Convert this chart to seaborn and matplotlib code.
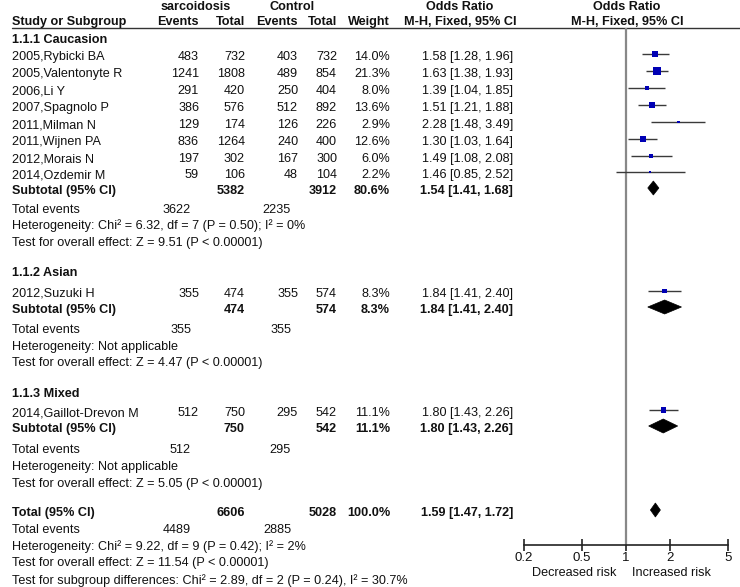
import numpy as np
import pandas as pd
import matplotlib
matplotlib.use("Agg")
import matplotlib.pyplot as plt
from matplotlib.patches import Polygon
import seaborn as sns

# ---------------- data ----------------
studies = ["2005,Rybicki BA", "2005,Valentonyte R", "2006,Li Y", "2007,Spagnolo P",
           "2011,Milman N", "2011,Wijnen PA", "2012,Morais N", "2014,Ozdemir M",
           "2012,Suzuki H", "2014,Gaillot-Drevon M"]
case_events = [483, 1241, 291, 386, 129, 836, 197, 59, 355, 512]
case_total = [732, 1808, 420, 576, 174, 1264, 302, 106, 474, 750]
ctrl_events = [403, 489, 250, 512, 126, 240, 167, 48, 355, 295]
ctrl_total = [732, 854, 404, 892, 226, 400, 300, 104, 574, 542]
weight = [14.0, 21.3, 8.0, 13.6, 2.9, 12.6, 6.0, 2.2, 8.3, 11.1]
odds = [1.58, 1.63, 1.39, 1.51, 2.28, 1.30, 1.49, 1.46, 1.84, 1.80]
ci_lo = [1.28, 1.38, 1.04, 1.21, 1.48, 1.03, 1.08, 0.85, 1.41, 1.43]
ci_hi = [1.96, 1.93, 1.85, 1.88, 3.49, 1.64, 2.08, 2.52, 2.40, 2.26]

sub_names = ["1.1.1 Caucasion", "1.1.2 Asian", "1.1.3 Mixed"]
sub_case_total = [5382, 474, 750]
sub_ctrl_total = [3912, 574, 542]
sub_weight = [80.6, 8.3, 11.1]
sub_odds = [1.54, 1.84, 1.80]
sub_lo = [1.41, 1.41, 1.43]
sub_hi = [1.68, 2.40, 2.26]
sub_case_events = [3622, 355, 512]
sub_ctrl_events = [2235, 355, 295]
sub_het = ["Heterogeneity: Chi² = 6.32, df = 7 (P = 0.50); I² = 0%",
           "Heterogeneity: Not applicable",
           "Heterogeneity: Not applicable"]
sub_test = ["Test for overall effect: Z = 9.51 (P < 0.00001)",
            "Test for overall effect: Z = 4.47 (P < 0.00001)",
            "Test for overall effect: Z = 5.05 (P < 0.00001)"]

tot_case_total = 6606
tot_ctrl_total = 5028
tot_weight = 100.0
tot_odds, tot_lo, tot_hi = 1.59, 1.47, 1.72
tot_case_events = 4489
tot_ctrl_events = 2885
tot_het = "Heterogeneity: Chi² = 9.22, df = 9 (P = 0.42); I² = 2%"
tot_test = "Test for overall effect: Z = 11.54 (P < 0.00001)"
tot_sub = "Test for subgroup differences: Chi² = 2.89, df = 2 (P = 0.24), I² = 30.7%"

axis_ticks = [0.2, 0.5, 1, 2, 5]
axis_ticklabels = ["0.2", "0.5", "1", "2", "5"]

# ---------------- layout (pixel rows) ----------------
study_y = [57, 74, 91, 108, 125, 142, 159, 175, 294, 413]
group_y = [40, 273, 394]
sub_y = [191, 310, 429]
sub_ev_y = [210, 330, 450]
sub_het_y = [226, 347, 467]
sub_test_y = [243, 363, 484]
tot_y, tot_ev_y, tot_het_y, tot_test_y, tot_sub_y = 513, 530, 547, 563, 581
mark_shift = -3

W, H = 740, 587
sns.set_theme(style="white")
plt.rcParams['font.family'] = ['Liberation Sans', 'DejaVu Sans']
FS = 9.1
TXT = "#111111"

fig = plt.figure(figsize=(W / 100, H / 100), dpi=100)
fig.patch.set_facecolor("white")

# text layer in pixel coordinates
axt = fig.add_axes([0, 0, 1, 1])
axt.set_xlim(0, W)
axt.set_ylim(H, 0)
axt.axis("off")

X_NAME = 12
X_CE, X_CT, X_KE, X_KT, X_W, X_OR = 199, 245, 298, 337, 390, 513
X_TE1, X_TE2 = 191, 291


def t(x, y, s, ha="left", bold=False):
    axt.text(x, y, s, ha=ha, va="center", fontsize=FS, color=TXT,
             fontweight="bold" if bold else "normal")


# headers
t(196, 7, "sarcoidosis", ha="center", bold=True)
t(292, 7, "Control", ha="center", bold=True)
t(460, 7, "Odds Ratio", ha="center", bold=True)
t(627, 7, "Odds Ratio", ha="center", bold=True)
t(X_NAME, 22, "Study or Subgroup", bold=True)
t(X_CE, 22, "Events", ha="right", bold=True)
t(X_CT, 22, "Total", ha="right", bold=True)
t(X_KE, 22, "Events", ha="right", bold=True)
t(X_KT, 22, "Total", ha="right", bold=True)
t(X_W, 22, "Weight", ha="right", bold=True)
t(460, 22, "M-H, Fixed, 95% CI", ha="center", bold=True)
t(627, 22, "M-H, Fixed, 95% CI", ha="center", bold=True)
axt.plot([X_NAME, W], [28, 28], color="#333333", lw=1.0)

# study rows
for i, name in enumerate(studies):
    y = study_y[i]
    t(X_NAME, y, name)
    t(X_CE, y, f"{case_events[i]}", ha="right")
    t(X_CT, y, f"{case_total[i]}", ha="right")
    t(X_KE, y, f"{ctrl_events[i]}", ha="right")
    t(X_KT, y, f"{ctrl_total[i]}", ha="right")
    t(X_W, y, f"{weight[i]:.1f}%", ha="right")
    t(X_OR, y, f"{odds[i]:.2f} [{ci_lo[i]:.2f}, {ci_hi[i]:.2f}]", ha="right")

# subgroup rows
for g in range(3):
    t(X_NAME, group_y[g], sub_names[g], bold=True)
    y = sub_y[g]
    t(X_NAME, y, "Subtotal (95% CI)", bold=True)
    t(X_CT, y, f"{sub_case_total[g]}", ha="right", bold=True)
    t(X_KT, y, f"{sub_ctrl_total[g]}", ha="right", bold=True)
    t(X_W, y, f"{sub_weight[g]:.1f}%", ha="right", bold=True)
    t(X_OR, y, f"{sub_odds[g]:.2f} [{sub_lo[g]:.2f}, {sub_hi[g]:.2f}]", ha="right", bold=True)
    t(X_NAME, sub_ev_y[g], "Total events")
    t(X_TE1, sub_ev_y[g], f"{sub_case_events[g]}", ha="right")
    t(X_TE2, sub_ev_y[g], f"{sub_ctrl_events[g]}", ha="right")
    t(X_NAME, sub_het_y[g], sub_het[g])
    t(X_NAME, sub_test_y[g], sub_test[g])

# overall
t(X_NAME, tot_y, "Total (95% CI)", bold=True)
t(X_CT, tot_y, f"{tot_case_total}", ha="right", bold=True)
t(X_KT, tot_y, f"{tot_ctrl_total}", ha="right", bold=True)
t(X_W, tot_y, f"{tot_weight:.1f}%", ha="right", bold=True)
t(X_OR, tot_y, f"{tot_odds:.2f} [{tot_lo:.2f}, {tot_hi:.2f}]", ha="right", bold=True)
t(X_NAME, tot_ev_y, "Total events")
t(X_TE1, tot_ev_y, f"{tot_case_events}", ha="right")
t(X_TE2, tot_ev_y, f"{tot_ctrl_events}", ha="right")
t(X_NAME, tot_het_y, tot_het)
t(X_NAME, tot_test_y, tot_test)
t(X_NAME, tot_sub_y, tot_sub)

# ---------------- forest axes ----------------
AX_L, AX_R, AX_TOP, AX_BOT = 524, 728, 28, 545
axf = fig.add_axes([AX_L / W, (H - AX_BOT) / H, (AX_R - AX_L) / W, (AX_BOT - AX_TOP) / H])
axf.patch.set_alpha(0)
axf.set_xscale("log")
axf.set_xlim(axis_ticks[0], axis_ticks[-1])
axf.set_ylim(AX_BOT, AX_TOP)

axf.axvline(1, color="#888888", lw=1.6, zorder=1)

df = pd.DataFrame({"study": studies, "odds": odds, "lo": ci_lo, "hi": ci_hi,
                   "weight": weight,
                   "y": [v + mark_shift for v in study_y]})
axf.hlines(df["y"], df["lo"], df["hi"], color="#3a3a3a", lw=1.0, zorder=2)
sns.scatterplot(data=df, x="odds", y="y", size="weight", sizes=(0, 34.0),
                size_norm=(0, 25), marker="s", color="#0000b4", edgecolor="none",
                linewidth=0, legend=False, ax=axf, zorder=3)

HALF = 7
def diamond(o, l, h, y):
    y = y + mark_shift
    axf.add_patch(Polygon([(l, y), (o, y - HALF), (h, y), (o, y + HALF)],
                          closed=True, facecolor="black", edgecolor="black",
                          lw=0.5, zorder=4))

for g in range(3):
    diamond(sub_odds[g], sub_lo[g], sub_hi[g], sub_y[g])
diamond(tot_odds, tot_lo, tot_hi, tot_y)

axf.set_xticks(axis_ticks)
axf.set_xticklabels(axis_ticklabels)
axf.xaxis.set_minor_locator(matplotlib.ticker.NullLocator())
axf.set_yticks([])
for s in ["top", "left", "right"]:
    axf.spines[s].set_visible(False)
axf.spines["bottom"].set_color("#222222")
axf.spines["bottom"].set_linewidth(1.2)
axf.tick_params(axis="x", direction="inout", length=9, width=1.2, color="#222222",
                labelsize=FS + 0.4, labelcolor=TXT, pad=0.5, bottom=True)
axf.set_xlabel("")
axf.set_ylabel("")

axt.text(574, 573, "Decreased risk", ha="center", va="center", fontsize=FS, color=TXT)
axt.text(671, 573, "Increased risk", ha="center", va="center", fontsize=FS, color=TXT)

fig.savefig("out.png", dpi=100, facecolor="white")
